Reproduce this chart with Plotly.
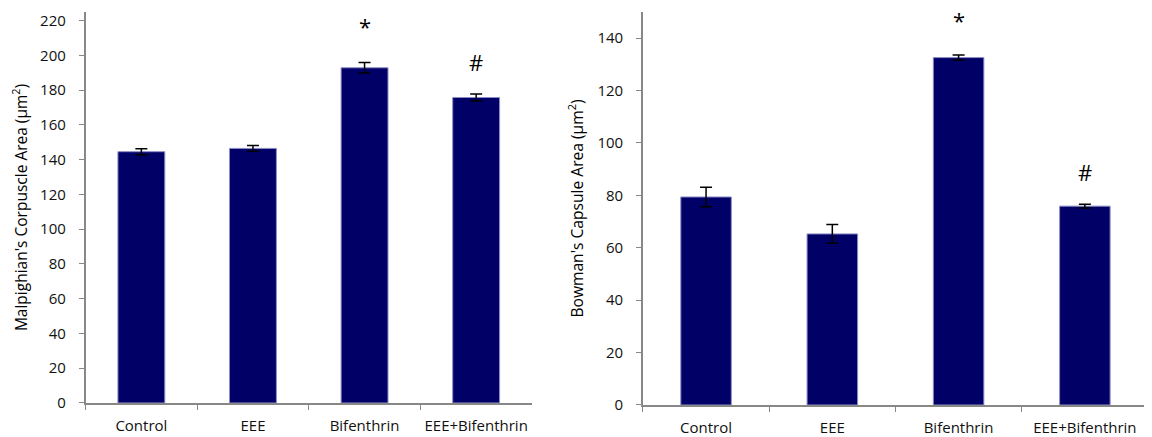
import plotly.graph_objects as go

categories = ["Control", "EEE", "Bifenthrin", "EEE+Bifenthrin"]
mc_values = [144.6, 146.5, 192.9, 175.8]
mc_errors = [1.7, 1.7, 3, 2]
mc_marks = ["", "", "*", "#"]
mc_mark_y = [None, None, 217, 196]

bc_values = [79.4, 65.3, 132.6, 75.9]
bc_errors = [3.7, 3.6, 1, 0.7]
bc_marks = ["", "", "*", "#"]
bc_mark_y = [None, None, 147, 89]

bar_color = "#000066"
font_family = "Open Sans, Liberation Sans, sans-serif"

fig = go.Figure()
fig.add_trace(go.Bar(
    x=categories, y=mc_values, width=0.42,
    marker=dict(color=bar_color, line=dict(color="#8c8cc8", width=1)),
    error_y=dict(type="data", array=mc_errors, color="black", thickness=1.5, width=6),
    xaxis="x", yaxis="y", showlegend=False))
fig.add_trace(go.Bar(
    x=categories, y=bc_values, width=0.40,
    marker=dict(color=bar_color, line=dict(color="#8c8cc8", width=1)),
    error_y=dict(type="data", array=bc_errors, color="black", thickness=1.5, width=6),
    xaxis="x2", yaxis="y2", showlegend=False))

annotations = []
for c, m, yv in zip(categories, mc_marks, mc_mark_y):
    if m:
        annotations.append(dict(x=c, y=yv, xref="x", yref="y", text=m, showarrow=False,
                                font=dict(size=22, color="black", family=font_family)))
for c, m, yv in zip(categories, bc_marks, bc_mark_y):
    if m:
        annotations.append(dict(x=c, y=yv, xref="x2", yref="y2", text=m, showarrow=False,
                                font=dict(size=22, color="black", family=font_family)))

axis_common = dict(showline=True, linecolor="#888888", linewidth=1.5, showgrid=False,
                   zeroline=False, automargin=False,
                   tickfont=dict(size=15, color="#111111", family=font_family))

# page body has an 8px default margin, so the figure is 8px smaller than the window
fig.update_layout(
    width=1144, height=429,
    margin=dict(l=0, r=0, t=0, b=0),
    paper_bgcolor="white", plot_bgcolor="white",
    annotations=annotations,
    xaxis=dict(domain=[0.0678, 0.458], range=[-0.5, 3.5], ticks="outside", tickson="boundaries",
               ticklen=5, tickcolor="#888888", ticklabelstandoff=8, tickangle=0, anchor="y",
               **axis_common),
    yaxis=dict(domain=[0.0793, 0.9907], range=[0, 225], dtick=20, ticks="outside", ticklen=5,
               tickcolor="#888888", ticklabelstandoff=10, anchor="x",
               title=dict(text="Malpighian's Corpuscle Area (µm<sup>2</sup>)",
                          font=dict(size=15.5, color="black", family=font_family), standoff=11),
               **axis_common),
    xaxis2=dict(domain=[0.555, 0.9965], range=[-0.5, 3.5], ticks="outside", tickson="boundaries",
                ticklen=5, tickcolor="#888888", ticklabelstandoff=8, tickangle=0, anchor="y2",
                **axis_common),
    yaxis2=dict(domain=[0.0746, 0.9907], range=[0, 150], dtick=20, ticks="outside", ticklen=5,
                tickcolor="#888888", ticklabelstandoff=10, anchor="x2",
                title=dict(text="Bowman's Capsule Area (µm<sup>2</sup>)",
                           font=dict(size=15.6, color="black", family=font_family), standoff=10),
                **axis_common),
)

fig.write_html("out.html")
